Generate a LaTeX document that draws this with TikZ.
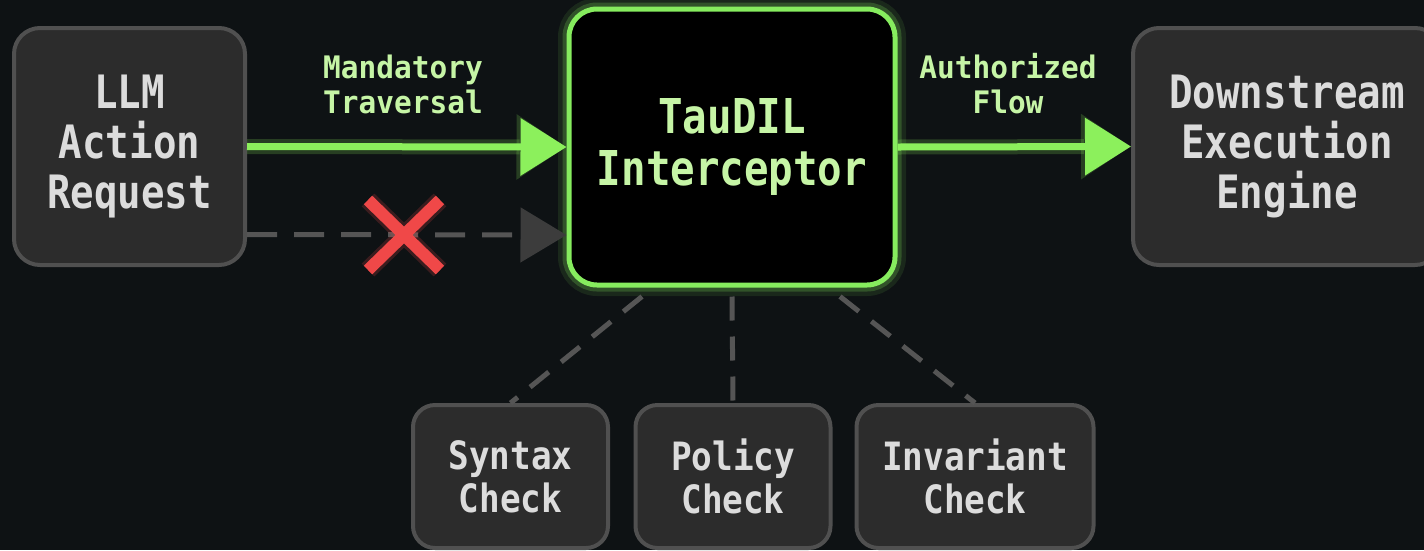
\documentclass[tikz,border=0pt]{standalone}
\usepackage{fontspec}
\newfontfamily\dmono[FakeStretch=0.85]{DejaVu Sans Mono}
\newfontfamily\cmono[FakeStretch=0.88]{DejaVu Sans Mono}
\newfontfamily\lmono[FakeStretch=0.95]{DejaVu Sans Mono}
\usetikzlibrary{arrows.meta,calc}
\definecolor{bg}{HTML}{0E1214}
\definecolor{boxfill}{HTML}{2C2C2C}
\definecolor{boxline}{HTML}{505050}
\definecolor{boxtext}{HTML}{DCDCDC}
\definecolor{arrowgreen}{HTML}{8CF05C}
\definecolor{bordergreen}{HTML}{86EC5E}
\definecolor{textgreen}{HTML}{C6F5A6}
\definecolor{dashgray}{HTML}{555555}
\definecolor{tipgray}{HTML}{3C3C3C}
\definecolor{xred}{HTML}{F04848}
\begin{document}
\begin{tikzpicture}[x=1pt,y=-1pt,
  graybox/.style={rectangle, rounded corners=26pt, fill=boxfill, draw=boxline, line width=4pt,
    text=boxtext, align=center, inner sep=0pt, font=\dmono\bfseries\fontsize{46}{50}\selectfont},
  checkbox/.style={graybox, rounded corners=22pt, minimum height=143pt,
    font=\cmono\bfseries\fontsize{39}{43}\selectfont},
  core/.style={rectangle, rounded corners=28pt, fill=black, draw=bordergreen, line width=5pt,
    text=textgreen, align=center, inner sep=0pt, font=\dmono\bfseries\fontsize{48}{52}\selectfont,
    preaction={draw=bordergreen, line width=22pt, opacity=0.10},
    preaction={draw=bordergreen, line width=13pt, opacity=0.22}},
  flowlabel/.style={text=textgreen, align=center, inner sep=0pt, font=\lmono\bfseries\fontsize{31}{35}\selectfont},
  flow/.style={draw=arrowgreen, line width=7pt, -{Triangle[length=46pt,width=56pt]},
    preaction={draw=arrowgreen, opacity=0.2, line width=15pt, -{Triangle[length=50pt,width=62pt]}}},
  blocked/.style={draw=dashgray, line width=5pt, dash pattern=on 30pt off 17pt,
    -{Triangle[length=46pt,width=54pt,color=tipgray]}},
  checkline/.style={draw=dashgray, line width=5pt, dash pattern=on 24pt off 16pt},
  xmark/.style={draw=xred, line width=12pt, preaction={draw=xred, opacity=0.2, line width=18pt}}
]
\useasboundingbox (0,0) rectangle (1424,550);
\clip (0,0) rectangle (1424,550);
\fill[bg] (0,0) rectangle (1424,550);

\node[graybox, minimum width=231pt, minimum height=237pt] (llm) at (129.5,146.5) {LLM\\Action\\Request};
\node[core, minimum width=326pt, minimum height=276pt] (tau) at (732,147) {TauDIL\\Interceptor};
\node[graybox, minimum width=308pt, minimum height=237pt] (ds) at (1287,146.5) {Downstream\\Execution\\Engine};

\node[checkbox, minimum width=195pt] (syn) at (510.5,476.5) {Syntax\\Check};
\node[checkbox, minimum width=195pt] (pol) at (733,476.5) {Policy\\Check};
\node[checkbox, minimum width=237pt] (inv) at (975,476.5) {Invariant\\Check};

\node[flowlabel] (mand) at (403,84) {Mandatory\\Traversal};
\node[flowlabel] (auth) at (1008,84) {Authorized\\Flow};

\draw[flow] (llm.east) -- (tau.west);
\draw[flow] (tau.east) -- (ds.west);
\draw[blocked] ([yshift=-88pt]llm.east) -- ([yshift=-88pt]tau.west);

\coordinate (xc) at (404,235);
\draw[xmark] ($(xc)+(-36,-35)$) -- ($(xc)+(36,35)$) ($(xc)+(-36,35)$) -- ($(xc)+(36,-35)$);

\draw[checkline] ([xshift=-90pt,yshift=-9pt]tau.south) -- (syn.north);
\draw[checkline] ([yshift=-9pt]tau.south) -- (pol.north);
\draw[checkline] ([xshift=108pt,yshift=-9pt]tau.south) -- (inv.north);
\end{tikzpicture}
\end{document}
